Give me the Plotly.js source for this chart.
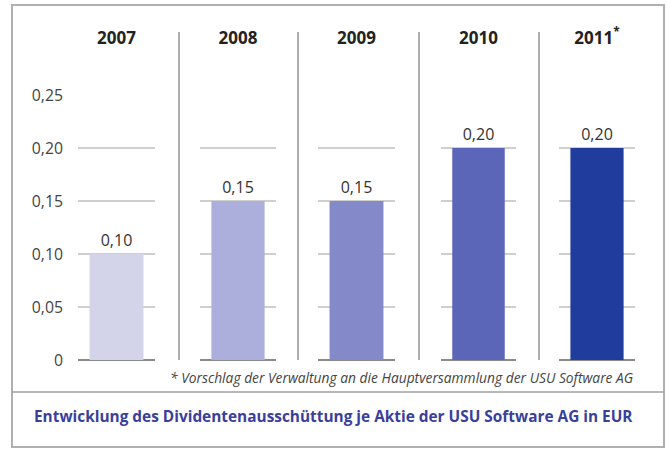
<!DOCTYPE html>
<html>
<head>
<meta charset="utf-8">
<script src="https://cdn.plot.ly/plotly-3.0.1.min.js"></script>
<style>html,body{margin:0;padding:0;background:#fff;}#chart{width:667px;height:450px;}</style>
</head>
<body>
<div id="chart"></div>
<script>
// ---- data ----
const years = ["2007", "2008", "2009", "2010", "2011<sup>*</sup>"];
const dividends = [0.10, 0.15, 0.15, 0.20, 0.20];
const yTickVals = [0, 0.05, 0.10, 0.15, 0.20, 0.25];
const yTickText = ["0", "0,05", "0,10", "0,15", "0,20", "0,25"];
const barColors = ["#d3d3ea", "#acafdc", "#8489ca", "#5b66b8", "#203d9d"];
const titleText = "Entwicklung des Dividentenausschüttung je Aktie der USU Software AG in EUR";
const footnoteText = "* Vorschlag der Verwaltung an die Hauptversammlung der USU Software AG";

// ---- layout helpers (pixels -> paper) ----
const W = 667, H = 450;
const px = v => v / W, py = v => 1 - v / H;
const colDomains = [[78,155],[200,276],[318,395],[441,516],[559,635]];
const separators = [179, 298, 419, 539];
const FONT = "'Open Sans', Lato, sans-serif";

const traces = [];
const layout = {
  width: W, height: H,
  margin: {l:0, r:0, t:0, b:0},
  paper_bgcolor: "#ffffff",
  plot_bgcolor: "rgba(0,0,0,0)",
  showlegend: false,
  separators: ", ",
  font: {family: FONT, color: "#333", size: 13},
  title: {
    text: "<b>" + titleText + "</b>",
    font: {size: 15.4, color: "#3a3f9c", family: FONT},
    x: px(34), xanchor: "left", xref: "paper",
    y: py(417), yanchor: "middle", yref: "container"
  },
  shapes: [],
  annotations: [{
    text: "<i>" + footnoteText + "</i>",
    xref: "paper", yref: "paper", x: px(636), y: py(377),
    xanchor: "right", yanchor: "middle", showarrow: false,
    font: {size: 13.8, color: "#444", family: FONT}
  }]
};

years.forEach((yr, i) => {
  const n = i === 0 ? "" : String(i + 1);
  traces.push({
    type: "bar",
    x: [yr], y: [dividends[i]],
    xaxis: "x" + n, yaxis: "y" + n,
    width: 0.7,
    marker: {color: barColors[i], line: {width: 0}},
    text: [dividends[i].toFixed(2).replace(".", ",")],
    textposition: "outside",
    textfont: {size: 16, color: "#333", family: FONT},
    cliponaxis: false,
    hoverinfo: "skip"
  });
  layout["xaxis" + n] = {
    domain: [px(colDomains[i][0]), px(colDomains[i][1])],
    type: "category",
    anchor: "free", position: py(47), side: "top",
    showline: false, showgrid: false, zeroline: false, ticks: "",
    tickfont: {size: 17, color: "#222", family: FONT, weight: "bold"},
    fixedrange: true
  };
  layout["yaxis" + n] = {
    domain: [py(360), py(95)],
    anchor: "x" + n,
    range: [0, 0.25],
    tickvals: yTickVals, ticktext: yTickText,
    showticklabels: i === 0,
    ticklabelstandoff: 14,
    tickfont: {size: 15.8, color: "#444", family: FONT},
    showgrid: true, gridcolor: "#cfcfcf", gridwidth: 1.2,
    zeroline: true, zerolinecolor: "#8a8a8a", zerolinewidth: 1.6,
    showline: false, ticks: "",
    fixedrange: true
  };
});

separators.forEach(x => {
  layout.shapes.push({type: "line", xref: "paper", yref: "paper",
    x0: px(x), x1: px(x), y0: py(32), y1: py(360),
    line: {color: "#9a9a9a", width: 1.6}});
});
layout.shapes.push({type: "rect", xref: "paper", yref: "paper",
  x0: px(12), x1: px(664), y0: py(447), y1: py(5),
  line: {color: "#b0b0b0", width: 2}, layer: "below"});
layout.shapes.push({type: "line", xref: "paper", yref: "paper",
  x0: px(12), x1: px(664), y0: py(392), y1: py(392),
  line: {color: "#a0a0a0", width: 1.5}});

Plotly.newPlot("chart", traces, layout, {displayModeBar: false, staticPlot: true});
</script>
</body>
</html>
